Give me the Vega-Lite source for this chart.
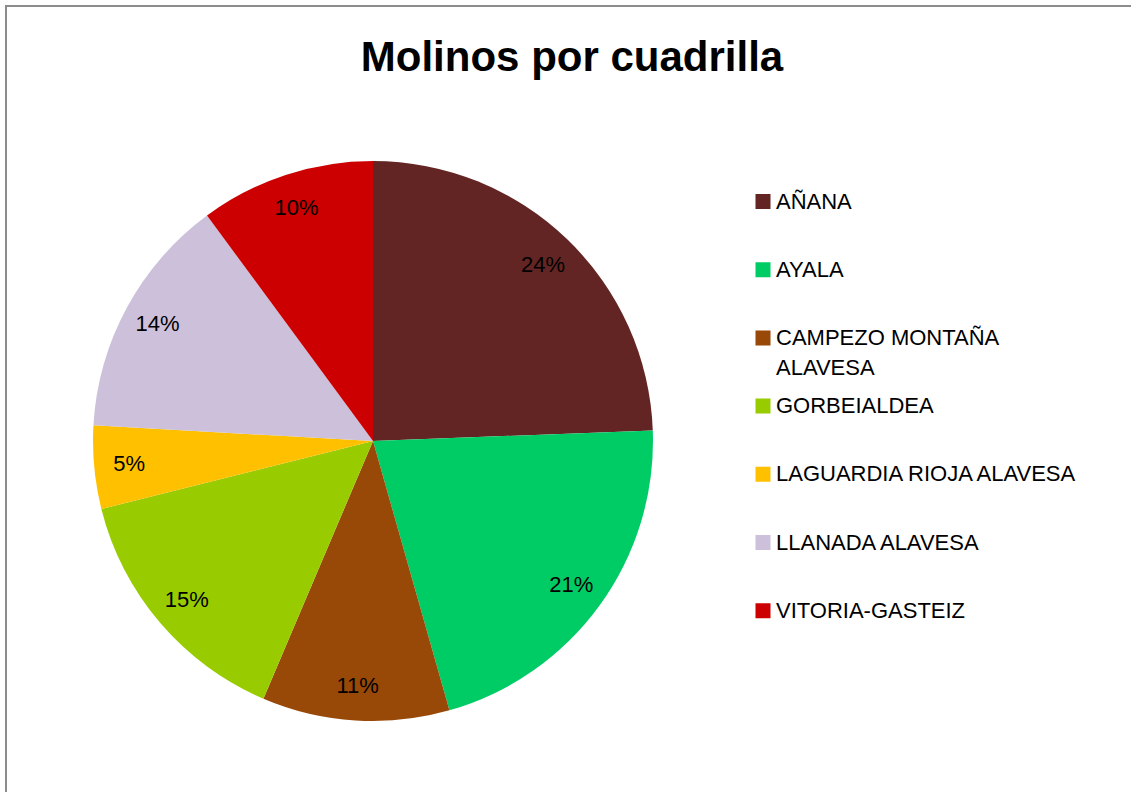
{
  "$schema": "https://vega.github.io/schema/vega-lite/v6.json",
  "width": 1140,
  "height": 800,
  "autosize": {"type": "none"},
  "padding": {"left": 6, "top": 6, "right": -15, "bottom": -14},
  "background": "white",
  "view": {"stroke": "#8c8c8c", "strokeWidth": 2},
  "config": {
    "view": {"stroke": "#8c8c8c", "strokeWidth": 2},
    "font": "Liberation Sans"
  },
  "title": {
    "text": "Molinos por cuadrilla",
    "font": "Liberation Sans",
    "fontSize": 42,
    "fontWeight": "bold",
    "color": "black",
    "anchor": "middle",
    "frame": "group",
    "baseline": "alphabetic",
    "offset": -67,
    "dx": -4,
    "dy": 40
  },
  "data": {
    "values": [
      {"idx": 1, "cuadrilla": "AÑANA", "value": 24.4, "label": "24%"},
      {"idx": 2, "cuadrilla": "AYALA", "value": 21.2, "label": "21%"},
      {"idx": 3, "cuadrilla": "CAMPEZO MONTAÑA ALAVESA", "value": 10.8, "label": "11%"},
      {"idx": 4, "cuadrilla": "GORBEIALDEA", "value": 14.7, "label": "15%"},
      {"idx": 5, "cuadrilla": "LAGUARDIA RIOJA ALAVESA", "value": 4.8, "label": "5%"},
      {"idx": 6, "cuadrilla": "LLANADA ALAVESA", "value": 14.0, "label": "14%"},
      {"idx": 7, "cuadrilla": "VITORIA-GASTEIZ", "value": 10.1, "label": "10%"}
    ]
  },
  "layer": [
    {
      "mark": {"type": "arc", "radius": 280, "xOffset": -203, "yOffset": 35, "strokeWidth": 0},
      "encoding": {
        "theta": {"field": "value", "type": "quantitative", "stack": true},
        "order": {"field": "idx", "type": "quantitative"},
        "color": {
          "field": "cuadrilla",
          "type": "nominal",
          "scale": {
            "domain": ["AÑANA", "AYALA", "CAMPEZO MONTAÑA ALAVESA", "GORBEIALDEA", "LAGUARDIA RIOJA ALAVESA", "LLANADA ALAVESA", "VITORIA-GASTEIZ"],
            "range": ["#632523", "#00CC66", "#984807", "#99CC00", "#FFC000", "#CCC0DA", "#CC0000"]
          },
          "legend": {
            "title": null,
            "orient": "none",
            "legendX": 746,
            "legendY": 185.5,
            "padding": 0,
            "symbolType": "square",
            "symbolSize": 225,
            "symbolStrokeWidth": 0,
            "symbolOpacity": 1,
            "labelFont": "Liberation Sans",
            "labelFontSize": 22,
            "labelColor": "black",
            "labelOffset": 2,
            "labelLimit": 400,
            "rowPadding": 16.2,
            "clipHeight": 20,
            "labelExpr": "datum.label === 'CAMPEZO MONTAÑA ALAVESA' ? ['CAMPEZO MONTAÑA', 'ALAVESA'] : [datum.label, '']",
            "encode": {
              "labels": {
                "update": {
                  "lineHeight": {"value": 30}
                }
              }
            }
          }
        }
      }
    },
    {
      "mark": {"type": "text", "radius": 245, "xOffset": -203, "yOffset": 35, "fontSize": 22, "font": "Liberation Sans", "color": "black"},
      "encoding": {
        "theta": {"field": "value", "type": "quantitative", "stack": true},
        "order": {"field": "idx", "type": "quantitative"},
        "detail": {"field": "cuadrilla", "type": "nominal"},
        "text": {"field": "label", "type": "nominal"}
      }
    }
  ]
}
